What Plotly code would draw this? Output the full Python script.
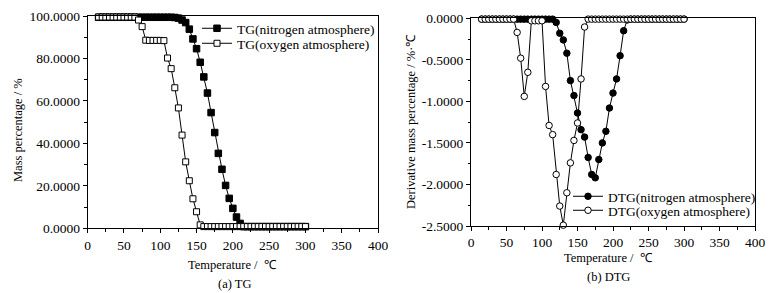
import plotly.graph_objects as go

# ---------------- data ----------------
T_tg_n = [15, 20, 25, 30, 35, 40, 45, 50, 55, 60, 65, 70, 75, 80, 85, 90, 95, 100, 105, 110,
          115, 120, 125, 130, 135, 140, 145, 150, 155, 160, 165, 170, 175, 180, 185, 190, 195,
          200, 205, 210, 215, 220, 225, 230, 235, 240, 245, 250, 255, 260, 265, 270, 275, 280,
          285, 290, 295, 300]
TG_n = [99.4, 99.4, 99.4, 99.4, 99.4, 99.4, 99.4, 99.4, 99.4, 99.4, 99.4, 99.4, 99.4, 99.4,
        99.4, 99.4, 99.4, 99.4, 99.4, 99.4, 99.4, 99.3, 99.0, 98.1, 96.9, 93.8, 89.2, 84.6,
        78.2, 71.3, 63.7, 54.5, 45.1, 35.3, 27.8, 20.2, 14.1, 9.4, 5.3, 2.3, 0.8, 0.8, 0.8,
        0.8, 0.8, 0.8, 0.8, 0.8, 0.8, 0.8, 0.8, 0.8, 0.8, 0.8, 0.8, 0.8, 0.8, 0.8]

T_tg_o = [15, 20, 25, 30, 35, 40, 45, 50, 55, 60, 65, 70, 75, 80, 85, 90, 95, 100, 105, 110,
          115, 120, 125, 130, 135, 140, 145, 150, 155, 160, 165, 170, 175, 180, 185, 190, 195,
          200, 205, 210, 215, 220, 225, 230, 235, 240, 245, 250, 255, 260, 265, 270, 275, 280,
          285, 290, 295, 300]
TG_o = [99.5, 99.5, 99.5, 99.5, 99.5, 99.5, 99.5, 99.5, 99.5, 99.5, 99.5, 98.1, 95.0, 88.6,
        88.5, 88.5, 88.5, 88.5, 88.4, 80.2, 75.2, 66.2, 56.7, 43.9, 31.3, 22.4, 13.9, 7.8, 1.6,
        0.8, 0.8, 0.8, 0.8, 0.8, 0.8, 0.8, 0.8, 0.8, 0.8, 0.8, 0.8, 0.8, 0.8, 0.8, 0.8, 0.8,
        0.8, 0.8, 0.8, 0.8, 0.8, 0.8, 0.8, 0.8, 0.8, 0.8, 0.8, 0.8]

T_dtg_n = T_tg_n
DTG_n = [-0.01, -0.01, -0.01, -0.01, -0.01, -0.01, -0.01, -0.01, -0.01, -0.01, -0.01, -0.01,
         -0.01, -0.01, -0.01, -0.01, -0.01, -0.01, -0.01, -0.01, -0.01, -0.05, -0.18, -0.26,
         -0.42, -0.75, -0.93, -1.14, -1.34, -1.43, -1.675, -1.88, -1.92, -1.70, -1.50, -1.36,
         -1.08, -0.90, -0.73, -0.45, -0.15, -0.02, -0.01, -0.01, -0.01, -0.01, -0.01, -0.01,
         -0.01, -0.01, -0.01, -0.01, -0.01, -0.01, -0.01, -0.01, -0.01, -0.01]

T_dtg_o = T_tg_o
DTG_o = [-0.01, -0.01, -0.01, -0.01, -0.01, -0.01, -0.01, -0.01, -0.01, -0.01, -0.17, -0.48,
         -0.94, -0.65, -0.03, -0.03, -0.03, -0.03, -0.82, -1.29, -1.40, -1.88, -2.26, -2.49,
         -2.10, -1.74, -1.47, -1.26, -0.73, -0.105, -0.01, -0.01, -0.01, -0.01, -0.01, -0.01,
         -0.01, -0.01, -0.01, -0.01, -0.01, -0.01, -0.01, -0.01, -0.01, -0.01, -0.01, -0.01,
         -0.01, -0.01, -0.01, -0.01, -0.01, -0.01, -0.01, -0.01, -0.01, -0.01]

x_ticks = [0, 50, 100, 150, 200, 250, 300, 350, 400]
tg_ticks = [0, 20, 40, 60, 80, 100]
tg_ticktext = ["0.0000", "20.0000", "40.0000", "60.0000", "80.0000", "100.0000"]
dtg_ticks = [0, -0.5, -1.0, -1.5, -2.0, -2.5]
dtg_ticktext = ["0.0000", "-0.5000", "-1.0000", "-1.5000", "-2.0000", "-2.5000"]

names = ["TG(nitrogen atmosphere)", "TG(oxygen atmosphere)",
         "DTG(nitrogen atmosphere)", "DTG(oxygen atmosphere)"]

# ---------------- figure ----------------
FONT = "Liberation Serif, Times New Roman, serif"
OFF = 8                      # page body margin of the browser
W, H = 777 - OFF, 293 - OFF  # figure fits the window


def px(xp):
    return (xp - OFF) / W


def py(yp):
    return 1 - (yp - OFF) / H


fig = go.Figure()
line = dict(color="black", width=1)
fig.add_trace(go.Scatter(x=T_tg_n, y=TG_n, mode="lines+markers", name=names[0],
                         line=line, cliponaxis=False,
                         marker=dict(symbol="square", size=6.5, color="black",
                                     line=dict(color="black", width=1)),
                         xaxis="x", yaxis="y", legend="legend"))
fig.add_trace(go.Scatter(x=T_tg_o, y=TG_o, mode="lines+markers", name=names[1],
                         line=line, cliponaxis=False,
                         marker=dict(symbol="square", size=6, color="white",
                                     line=dict(color="black", width=1)),
                         xaxis="x", yaxis="y", legend="legend2"))
fig.add_trace(go.Scatter(x=T_dtg_n, y=DTG_n, mode="lines+markers", name=names[2],
                         line=line, cliponaxis=False,
                         marker=dict(symbol="circle", size=6.5, color="black",
                                     line=dict(color="black", width=1)),
                         xaxis="x2", yaxis="y2", legend="legend3"))
fig.add_trace(go.Scatter(x=T_dtg_o, y=DTG_o, mode="lines+markers", name=names[3],
                         line=line, cliponaxis=False,
                         marker=dict(symbol="circle", size=6.5, color="white",
                                     line=dict(color="black", width=1)),
                         xaxis="x2", yaxis="y2", legend="legend4"))

tickfont = dict(family=FONT, size=13.5, color="black")


def xax(domain, anchor):
    return dict(domain=domain, anchor=anchor, range=[0, 400], tickvals=x_ticks,
                automargin=False,
                showgrid=False, zeroline=False, showline=True, linecolor="black",
                linewidth=1, mirror=True, ticks="outside", ticklen=4, tickwidth=1,
                tickcolor="black", tickfont=tickfont,
                minor=dict(ticks="outside", dtick=25, tick0=0, ticklen=2.5,
                           tickcolor="black", tickwidth=1))


def yax(domain, anchor, rng, tv, tt, minor_dtick, minor0):
    return dict(domain=domain, anchor=anchor, range=rng, tickvals=tv, ticktext=tt,
                automargin=False,
                showgrid=False, zeroline=False, showline=True, linecolor="black",
                linewidth=1, mirror=True, ticks="outside", ticklen=4, tickwidth=1,
                tickcolor="black", tickfont=tickfont,
                minor=dict(ticks="outside", dtick=minor_dtick, tick0=minor0, ticklen=2.5,
                           tickcolor="black", tickwidth=1))


def leg(text_x, center_y):
    # one single-item legend, placed so its text starts at text_x and its row is centred at center_y
    return dict(x=px(text_x - 40), y=py(center_y - 16), xanchor="left", yanchor="top",
                bgcolor="rgba(0,0,0,0)", borderwidth=0, tracegroupgap=0,
                font=dict(family=FONT, size=13.5, color="black"))


fig.update_layout(
    width=W, height=H, margin=dict(l=0, r=0, t=0, b=0, autoexpand=False),
    paper_bgcolor="white", plot_bgcolor="white",
    font=dict(family=FONT, size=12, color="black"),
    xaxis=xax([px(87.7), px(378)], "y"),
    yaxis=yax([py(228.3), py(16)], "x", [0, 100], tg_ticks, tg_ticktext, 10, 0),
    xaxis2=xax([px(471), px(755)], "y2"),
    yaxis2=yax([py(226), py(18.3)], "x2", [-2.5, 0], dtg_ticks, dtg_ticktext, 0.25, 0),
    legend=leg(237, 29),
    legend2=leg(237, 44),
    legend3=leg(608, 197),
    legend4=leg(608, 211),
    showlegend=True,
)

ann_font = dict(family=FONT, size=12.5, color="black")
annotations = [
    dict(text="Mass percentage / %", x=px(18), y=py(130), textangle=-90),
    dict(text="Temperature /  ℃", x=px(232), y=py(265)),
    dict(text="(a) TG", x=px(234), y=py(284)),
    dict(text="Derivative mass percentage / %·℃", x=px(411), y=py(122), textangle=-90),
    dict(text="Temperature /  ℃", x=px(608), y=py(258)),
    dict(text="(b) DTG", x=px(608), y=py(277)),
]
for a in annotations:
    fig.add_annotation(xref="paper", yref="paper", showarrow=False, font=ann_font,
                       xanchor="center", yanchor="middle", **a)

fig.write_html("out.html")
